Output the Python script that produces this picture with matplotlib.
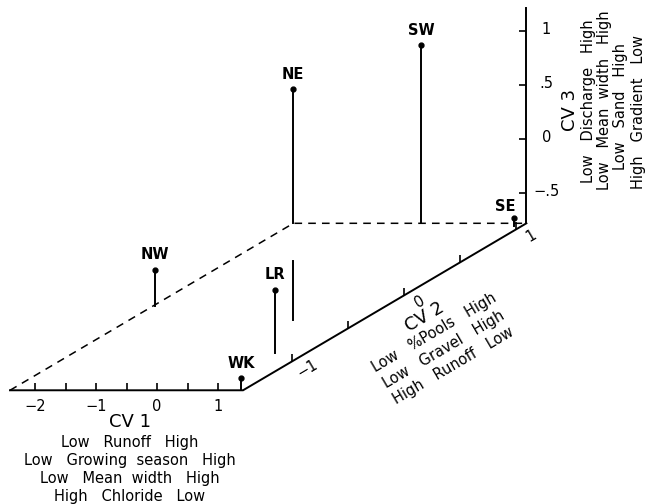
import numpy as np
import matplotlib.pyplot as plt

plt.rcParams['font.family'] = ['DejaVu Sans']

# group positions on the three canonical variates
sites = ['NW', 'NE', 'SW', 'SE', 'LR', 'WK']
cv1 = [-2.37, 0.28, -0.32, 1.28, 0.91, 1.38]
cv2 = [-0.17, -0.38, 1.09, 1.05, -0.88, -1.44]
cv3 = [-0.44, 1.36, 0.87, -0.71, -0.19, -0.67]

# extent of the box drawn under the points
cv1_lim = [-2.41, 1.41]
cv2_lim = [-1.44, 1.09]
cv3_lim = [-0.78, 1.21]

cv1_ticks = [-2, -1.5, -1, -0.5, 0, 0.5, 1]
cv1_labels = {-2: '\u22122', -1: '\u22121', 0: '0', 1: '1'}
cv2_ticks = [-1, -0.5, 0, 0.5, 1]
cv2_labels = {-1: '\u22121', 0: '0', 1: '1'}
cv3_ticks = [-0.5, 0, 0.5, 1]
cv3_labels = {-0.5: '\u2212.5', 0: '0', 0.5: '.5', 1: '1'}

cv1_text = ['Low   Runoff   High', 'Low   Growing  season   High',
            'Low   Mean  width   High', 'High   Chloride   Low']
cv2_text = ['Low   %Pools   High', 'Low   Gravel   High', 'High   Runoff   Low']
cv3_text = ['Low   Discharge   High', 'Low   Mean  width   High',
            'Low   Sand   High', 'High   Gradient   Low']

# oblique projection (units of one CV1 step)
kx, ky, kz = 112 / 61, 66 / 61, 108 / 61


def proj(a, b, c):
    a, b, c = np.asarray(a, float), np.asarray(b, float), np.asarray(c, float)
    return a + kx * b, ky * b + kz * c


fig = plt.figure(figsize=(6.57, 5.04), dpi=100)
ax = fig.add_axes([0, 0, 1, 1])
ax.set_xlim(-318.3 / 61, (657 - 318.3) / 61)
ax.set_ylim((211 - 504) / 61, 211 / 61)
ax.axis('off')

lw = 1.4
floor = cv3_lim[0]
a0, a1 = cv1_lim
b0, b1 = cv2_lim

# solid axes: CV1 along the front, CV2 on the right, CV3 at the back corner
x, y = proj([a0, a1, a1], [b0, b0, b1], [floor] * 3)
ax.plot(x, y, 'k-', lw=lw, solid_joinstyle='miter')
x, y = proj([a1, a1], [b1, b1], [floor, cv3_lim[1]])
ax.plot(x, y, 'k-', lw=lw)
# dashed left and back edges
x, y = proj([a0, a0, a1], [b0, b1, b1], [floor] * 3)
ax.plot(x, y, 'k--', lw=1.1, dashes=(5, 4))

# ticks
x, y = proj(cv1_ticks, [b0] * len(cv1_ticks), [floor] * len(cv1_ticks))
ax.plot(x, y, ls='none', marker=2, ms=5, mew=1.2, color='k')
for t in cv1_labels:
    px, py = proj(t, b0, floor)
    ax.annotate(cv1_labels[t], (px, py), xytext=(0, -16), textcoords='offset pixels',
                ha='center', va='center', fontsize=10.5)

x, y = proj([a1] * len(cv2_ticks), cv2_ticks, [floor] * len(cv2_ticks))
ax.plot(x, y, ls='none', marker=2, ms=5, mew=1.2, color='k')
for t in cv2_labels:
    px, py = proj(a1, t, floor)
    ax.annotate(cv2_labels[t], (px, py), xytext=(15, -7), textcoords='offset pixels',
                ha='center', va='center', fontsize=10.5, rotation=30.5)

x, y = proj([a1] * len(cv3_ticks), [b1] * len(cv3_ticks), cv3_ticks)
ax.plot(x, y, ls='none', marker=0, ms=5, mew=1.2, color='k')
for t in cv3_labels:
    px, py = proj(a1, b1, t)
    ax.annotate(cv3_labels[t], (px, py), xytext=(20, 2), textcoords='offset pixels',
                ha='center', va='center', fontsize=10.5)

# stems from each point down to the floor
back_y = proj(0, b1, floor)[1]
gap = 38 / 61
for s, a, b, c in zip(sites, cv1, cv2, cv3):
    tx, ty = proj(a, b, c)
    bx, by = proj(a, b, floor)
    if by < back_y - gap and ty > back_y:
        # stem passes the back edge: leave it broken there
        ax.plot([tx, tx], [ty, back_y], 'k-', lw=lw)
        ax.plot([bx, bx], [back_y - gap, by], 'k-', lw=lw)
    else:
        ax.plot([tx, bx], [ty, by], 'k-', lw=lw)
    ax.plot(tx, ty, 'ko', ms=3.5)
    off = (-9, 12) if s == 'SE' else (0, 15)
    ax.annotate(s, (tx, ty), xytext=off, textcoords='offset pixels',
                ha='center', va='center', fontsize=10.5, fontweight='bold')

# axis captions
fs = 10.5
ax.annotate('CV 1', (130, 504 - 422), xycoords='figure pixels', ha='center', va='center',
            fontsize=13)
for i, line in enumerate(cv1_text):
    ax.annotate(line, (130, 504 - (442 + 18 * i)), xycoords='figure pixels',
                ha='center', va='center', fontsize=fs)

ax.annotate('CV 2', (425, 504 - 317), xycoords='figure pixels', ha='center', va='center',
            fontsize=13, rotation=30.5, rotation_mode='anchor')
for i, line in enumerate(cv2_text):
    cx = 434 + 9.5 * i
    cy = 333 + 16.5 * i
    ax.annotate(line, (cx, 504 - cy), xycoords='figure pixels', ha='center', va='center',
                fontsize=fs, rotation=30.5, rotation_mode='anchor')

ax.annotate('CV 3', (570, 504 - 110), xycoords='figure pixels', ha='center', va='center',
            fontsize=13, rotation=90, rotation_mode='anchor')
cv3_x = [588, 604, 621, 639]
cv3_y = [101, 100, 106, 112]
for line, cx, cy in zip(cv3_text, cv3_x, cv3_y):
    ax.annotate(line, (cx, 504 - cy), xycoords='figure pixels', ha='center', va='center',
                fontsize=fs, rotation=90, rotation_mode='anchor')

fig.savefig('out.png', dpi=100)
